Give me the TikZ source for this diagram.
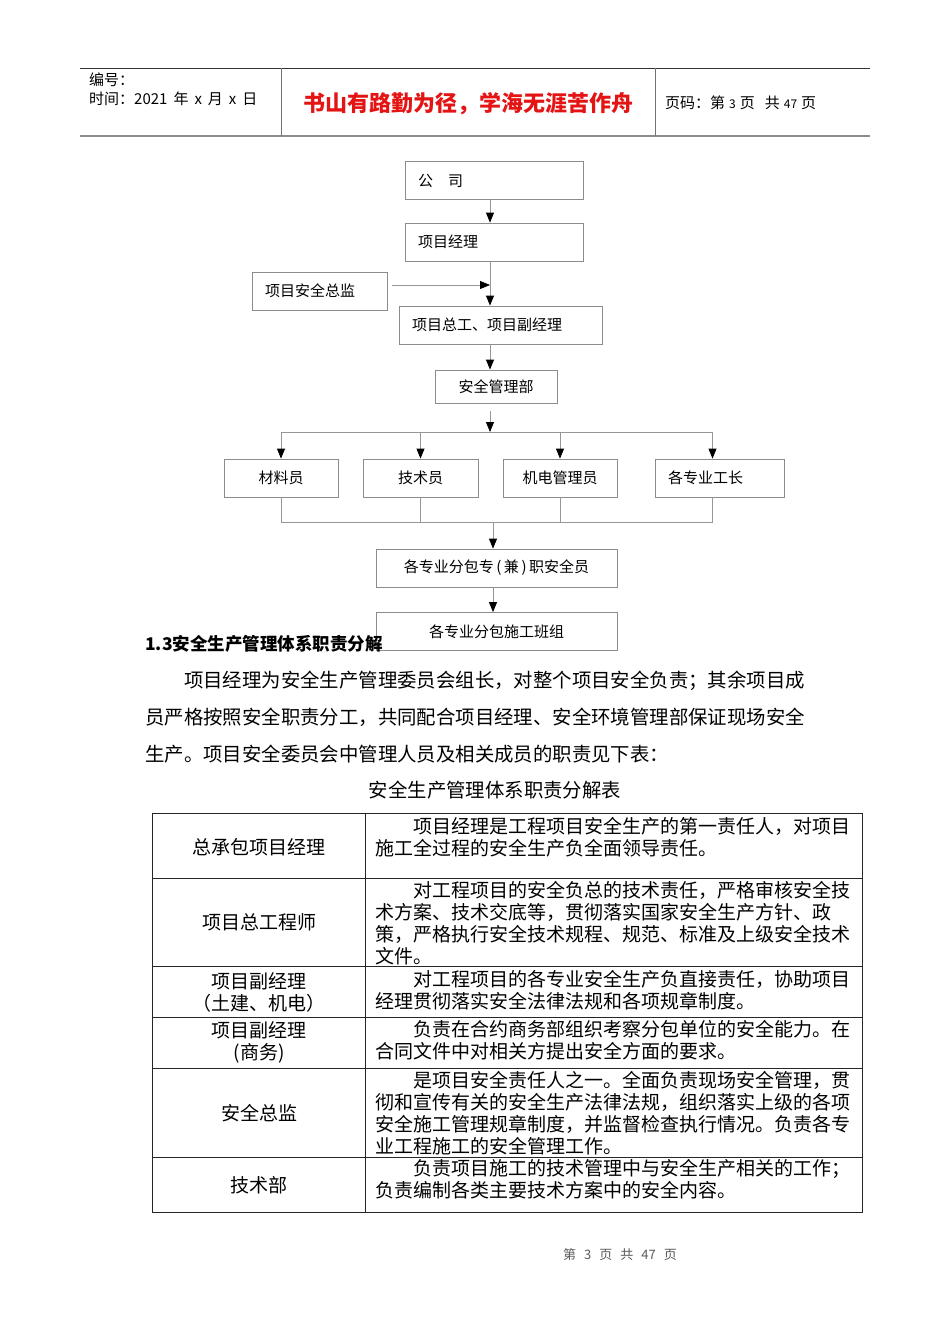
\documentclass[tikz,border=0pt]{standalone}
\usepackage{fontspec}
\setmainfont{Noto Sans CJK SC}
\usetikzlibrary{arrows.meta, positioning}
\definecolor{boxgray}{RGB}{140,140,140}
\definecolor{linkgray}{RGB}{150,150,150}
\definecolor{mottored}{RGB}{228,20,20}
\definecolor{footgray}{RGB}{90,90,90}
\newcommand\flowfont{\fontsize{15}{18}\selectfont}
\newcommand\cellfont{\fontsize{19}{22}\selectfont}
\newcommand\bodyfont{\fontsize{19.4}{37}\selectfont}
\newcommand\gap[1]{\hspace{#1pt}}

\begin{document}
\begin{tikzpicture}[x=1pt, y=-1pt,
  box/.style={draw=boxgray, line width=0.8pt, minimum height=38pt, inner sep=0pt, font=\flowfont},
  lbox/.style={box, align=left, inner xsep=13pt, text width=#1},
  cbox/.style={box, align=center, minimum width=#1},
  link/.style={draw=linkgray, line width=0.8pt},
  arr/.style={link, -{Triangle[length=10pt, width=8pt, color=black]}},
  tab/.style={draw=black!85, line width=1pt},
  dutycell/.style={inner sep=0pt, font=\cellfont, align=left, text width=480pt, anchor=north west},
  rolecell/.style={inner sep=0pt, font=\cellfont, align=center}]
\path[fill=white, use as bounding box] (0,0) rectangle (950,1344);

% header
\draw[black!80, line width=0.8pt] (80,68) -- (870,68);
\draw[black!45, line width=1.6pt] (80,136) -- (870,136);
\draw[black!55, line width=0.8pt] (281,68) -- (281,136) (655,68) -- (655,136);
\node[anchor=west, inner sep=0pt, font=\flowfont] (serial) at (89,80) {编号：};
\node[anchor=west, inner sep=0pt, font=\flowfont] (date) at (89,99)
  {时间：2021\gap{6}年\gap{6}x\gap{6}月\gap{6}x\gap{6}日};
\node[font=\fontsize{22}{26}\selectfont\bfseries, text=mottored] (motto) at (468,104) {书山有路勤为径，学海无涯苦作舟};
\node[anchor=west, inner sep=0pt, font=\flowfont] (pageno) at (665,103)
  {页码：第\gap{4}{\fontsize{12}{14}\selectfont 3}\gap{4}页\gap{10}共\gap{4}{\fontsize{12}{14}\selectfont 47}\gap{4}页};

% organisation chart
\node[lbox=152pt] (company) at (494,180.5) {公\hspace{1em}司};
\node[lbox=152pt] (pm) at (494,242) {项目经理};
\node[lbox=109pt] (safedir) at (319.5,291) {项目安全总监};
\node[lbox=177pt] (chief) at (500.5,325) {项目总工、项目副经理};
\node[cbox=122pt, minimum height=33pt] (dept) at (496,386.5) {安全管理部};
\node[cbox=114pt] (mat) at (281,478) {材料员};
\node[cbox=115pt] (tech) at (420.5,478) {技术员};
\node[cbox=114pt] (elec) at (560,478) {机电管理员};
\node[lbox=103pt] (foreman) at (719.5,478) {各专业工长};
\node[cbox=241pt] (subsafe) at (496.5,568) {各专业分包专\,(\,兼\,)\,职安全员};
\node[cbox=241pt] (team) at (496.5,631.5) {各专业分包施工班组};

\coordinate (spine) at (490,0);
\coordinate (bus) at (490,432);
\coordinate (join) at (493,522);
\coordinate (fmtop) at ([xshift=-7pt]foreman.north);
\coordinate (fmbot) at ([xshift=-7pt]foreman.south);

\draw[arr] (company.south -| spine) -- (pm.north -| spine);
\draw[arr] (pm.south -| spine) -- (chief.north -| spine);
\draw[arr] ([xshift=5pt, yshift=6pt]safedir.east) -- ([yshift=6pt]safedir.east -| spine);
\draw[arr] (chief.south -| spine) -- (dept.north -| spine);
\draw[arr] ([yshift=-8pt]dept.south -| spine) -- (bus);
\draw[link] (mat.north |- bus) -- (fmtop |- bus);
\foreach \b in {mat.north, tech.north, elec.north, fmtop}
  \draw[arr] (\b |- bus) -- (\b);
\foreach \b in {mat.south, tech.south, elec.south, fmbot}
  \draw[link] (\b) -- (\b |- join);
\draw[link] (mat.south |- join) -- (fmbot |- join);
\draw[arr] (join) -- (subsafe.north -| join);
\draw[arr] (subsafe.south -| join) -- (team.north -| join);

% section text
\node[anchor=west, inner sep=0pt, font=\fontsize{17.5}{20}\selectfont\bfseries] (sechead) at (145,644) {1.3安全生产管理体系职责分解};
\node[dutycell, font=\bodyfont, text width=665pt] (para) at (145,671)
  {　　项目经理为安全生产管理委员会组长，对整个项目安全负责；其余项目成\\
   员严格按照安全职责分工，共同配合项目经理、安全环境管理部保证现场安全\\
   生产。项目安全委员会中管理人员及相关成员的职责见下表：};
\node[font=\bodyfont, inner sep=0pt] (caption) at (495,790) {安全生产管理体系职责分解表};

% table
\draw[tab] (152,813) rectangle (862,1212);
\draw[tab] (365,813) -- (365,1212);
\foreach \y in {878,966,1017,1068,1157}
  \draw[tab] (152,\y) -- (862,\y);

\node[rolecell] (role1) at (259,847) {总承包项目经理};
\node[dutycell] (duty1) at (375,817)
  {　　项目经理是工程项目安全生产的第一责任人，对项目\\施工全过程的安全生产负全面领导责任。};
\node[rolecell] (role2) at (259,922) {项目总工程师};
\node[dutycell] (duty2) at (375,881)
  {　　对工程项目的安全负总的技术责任，严格审核安全技\\术方案、技术交底等，贯彻落实国家安全生产方针、政\\策，严格执行安全技术规程、规范、标准及上级安全技术\\文件。};
\node[rolecell] (role3) at (259,992.5) {项目副经理\\（土建、机电）};
\node[dutycell] (duty3) at (375,970)
  {　　对工程项目的各专业安全生产负直接责任，协助项目\\经理贯彻落实安全法律法规和各项规章制度。};
\node[rolecell] (role4) at (259,1042) {项目副经理\\(商务)};
\node[dutycell] (duty4) at (375,1020)
  {　　负责在合约商务部组织考察分包单位的安全能力。在\\合同文件中对相关方提出安全方面的要求。};
\node[rolecell] (role5) at (259,1113) {安全总监};
\node[dutycell] (duty5) at (375,1071)
  {　　是项目安全责任人之一。全面负责现场安全管理，贯\\彻和宣传有关的安全生产法律法规，组织落实上级的各项\\安全施工管理规章制度，并监督检查执行情况。负责各专\\业工程施工的安全管理工作。};
\node[rolecell] (role6) at (259,1185) {技术部};
\node[dutycell] (duty6) at (375,1159)
  {　　负责项目施工的技术管理中与安全生产相关的工作；\\负责编制各类主要技术方案中的安全内容。};

% footer
\node[font=\fontsize{13}{15}\selectfont, text=footgray, inner sep=0pt] (footer) at (620,1255)
  {第\gap{8}3\gap{8}页\gap{8}共\gap{8}47\gap{8}页};
\end{tikzpicture}
\end{document}
